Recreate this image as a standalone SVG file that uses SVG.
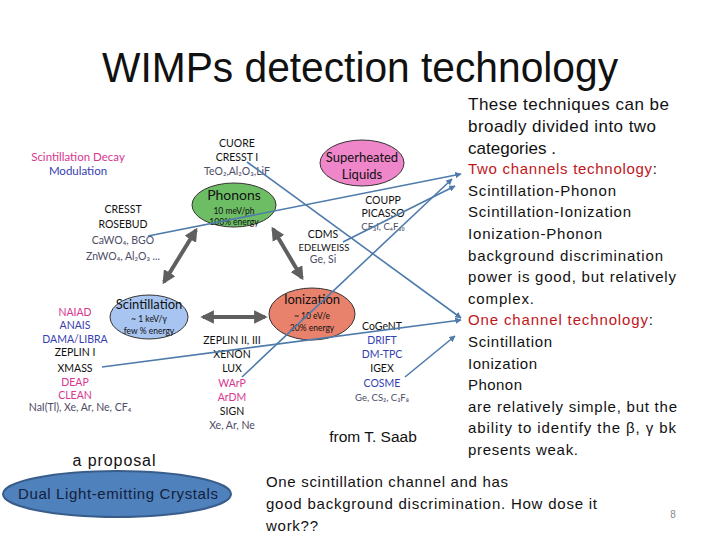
<svg xmlns="http://www.w3.org/2000/svg" width="720" height="540" viewBox="0 0 720 540">
<defs>
<marker id="ah" viewBox="0 0 10 10" refX="9" refY="5" markerWidth="4" markerHeight="4" orient="auto-start-reverse"><path d="M0,0 L10,5 L0,10 z" fill="#4f7bab"/></marker>
<marker id="gh" viewBox="0 0 10 10" refX="8" refY="5" markerWidth="3.4" markerHeight="3.4" orient="auto-start-reverse"><path d="M0,0 L10,5 L0,10 z" fill="#5f5f5f"/></marker>
</defs>
<style>
.t{font-family:"Liberation Sans",Arial,sans-serif}
.lbl{font-family:"Lato","Liberation Sans",sans-serif;font-size:10.5px;text-anchor:middle}
.s9{font-size:8.5px}
.s10{font-size:9.5px}
.s11{font-size:11.5px}
.s13{font-size:13px}
.s14{font-size:14px}
.k{fill:#111}
.p{fill:#d9368f}
.b{fill:#3540b0}
.g{fill:#4d4d66}
.c{font-family:"Liberation Sans",Arial,sans-serif;font-size:15px;fill:#111}
.a{font-family:"Liberation Sans",Arial,sans-serif;font-size:17px;fill:#111}
.blue{stroke:#4f7bab;stroke-width:1.6;fill:none;marker-end:url(#ah)}
.gray{stroke:#5f5f5f;stroke-width:4;fill:none;marker-start:url(#gh);marker-end:url(#gh)}
</style>
<rect width="720" height="540" fill="#fff"/>
<text class="t" x="360" y="82" font-size="42" text-anchor="middle" textLength="516" lengthAdjust="spacingAndGlyphs" fill="#111">WIMPs detection technology</text>

<g id="phonons"><ellipse cx="234" cy="205" rx="42" ry="22" fill="#6dbd65" stroke="#333" stroke-width="1"/>
<text class="lbl k s14" x="234" y="200">Phonons</text>
<text class="lbl k s9" x="234" y="214">10 meV/ph</text>
<text class="lbl k s9" x="234" y="225">100% energy</text></g>

<g id="superheated"><ellipse cx="362" cy="163" rx="42" ry="23" fill="#ee86c9" stroke="#333" stroke-width="1"/>
<text class="lbl k s13" x="362" y="162">Superheated</text>
<text class="lbl k s13" x="362" y="179">Liquids</text></g>

<g id="scintillation"><ellipse cx="149" cy="317" rx="39" ry="22" fill="#a8c4f0" stroke="#333" stroke-width="1"/>
<text class="lbl k s13" x="149" y="309">Scintillation</text>
<text class="lbl k s9" x="149" y="322">~ 1 keV/γ</text>
<text class="lbl k s9" x="149" y="334">few % energy</text></g>

<g id="ionization"><ellipse cx="312" cy="314" rx="43" ry="26" fill="#e9826c" stroke="#333" stroke-width="1"/>
<text class="lbl k s13" x="312" y="304">Ionization</text>
<text class="lbl k s9" x="312" y="319">~ 10 eV/e</text>
<text class="lbl k s9" x="312" y="331">20% energy</text></g>

<g id="labels">
<text class="lbl p s11" x="78" y="161">Scintillation Decay</text>
<text class="lbl b s11" x="78" y="175">Modulation</text>
<text class="lbl k" x="237" y="147">CUORE</text>
<text class="lbl k" x="237" y="161">CRESST I</text>
<text class="lbl g" x="237" y="175">TeO₂,Al₂O₃,LiF</text>
<text class="lbl k" x="123" y="213">CRESST</text>
<text class="lbl k" x="123" y="228">ROSEBUD</text>
<text class="lbl g" x="123" y="244">CaWO₄, BGO</text>
<text class="lbl g" x="123" y="260">ZnWO₄, Al₂O₃ ...</text>
<text class="lbl k" x="383" y="204">COUPP</text>
<text class="lbl k" x="383" y="217">PICASSO</text>
<text class="lbl g s10" x="383" y="230">CF₃I, C₄F₁₀</text>
<text class="lbl k" x="323" y="238">CDMS</text>
<text class="lbl k s10" x="324" y="251">EDELWEISS</text>
<text class="lbl g" x="323" y="263">Ge, Si</text>
<text class="lbl p" x="75" y="316">NAIAD</text>
<text class="lbl b" x="75" y="329">ANAIS</text>
<text class="lbl b" x="75" y="343">DAMA/LIBRA</text>
<text class="lbl k" x="75" y="356">ZEPLIN I</text>
<text class="lbl k" x="75" y="372">XMASS</text>
<text class="lbl p" x="75" y="386">DEAP</text>
<text class="lbl p" x="75" y="399">CLEAN</text>
<text class="lbl g" x="80" y="411">NaI(Tl), Xe, Ar, Ne, CF₄</text>
<text class="lbl k" x="232" y="344">ZEPLIN II, III</text>
<text class="lbl k" x="232" y="358">XENON</text>
<text class="lbl k" x="232" y="372">LUX</text>
<text class="lbl p" x="232" y="387">WArP</text>
<text class="lbl p" x="232" y="401">ArDM</text>
<text class="lbl k" x="232" y="415">SIGN</text>
<text class="lbl g" x="232" y="429">Xe, Ar, Ne</text>
<text class="lbl k" x="382" y="330">CoGeNT</text>
<text class="lbl b" x="382" y="344">DRIFT</text>
<text class="lbl b" x="382" y="358">DM-TPC</text>
<text class="lbl k" x="382" y="372">IGEX</text>
<text class="lbl b" x="382" y="387">COSME</text>
<text class="lbl g s10" x="382" y="401">Ge, CS₂, C₃F₈</text>
<text class="t" x="373" y="442" font-size="15.5" text-anchor="middle" fill="#111">from T. Saab</text>
</g>

<g id="connectors">
<line class="gray" x1="196" y1="230" x2="164" y2="282"/>
<line class="gray" x1="273" y1="229" x2="302" y2="278"/>
<line class="gray" x1="203" y1="317" x2="265" y2="317"/>
<line class="blue" x1="148" y1="236" x2="461" y2="174"/>
<line class="blue" x1="343" y1="242" x2="455" y2="186"/>
<line class="blue" x1="242" y1="377" x2="452" y2="179"/>
<line class="blue" x1="247" y1="162" x2="461" y2="318"/>
<line class="blue" x1="102" y1="367" x2="461" y2="320"/>
<line class="blue" x1="405" y1="377" x2="455" y2="336"/>
</g>

<g id="proposal">
<text class="t" x="114" y="466" font-size="16" text-anchor="middle" textLength="83" fill="#111">a proposal</text>
<ellipse cx="117" cy="494" rx="114" ry="23" fill="#4f81bd" stroke="#385d8a" stroke-width="2"/>
<text class="t" x="118" y="499" font-size="15" text-anchor="middle" textLength="200" fill="#13203a">Dual Light-emitting Crystals</text>
</g>

<g id="righttext">
<text class="a" x="468" y="110" textLength="201">These techniques can be</text>
<text class="a" x="468" y="132" textLength="188">broadly divided into two</text>
<text class="a" x="468" y="154" textLength="88">categories .</text>
<text class="c" x="468" y="174" textLength="189"><tspan fill="#c0161c">Two channels technology</tspan><tspan fill="#111">:</tspan></text>
<text class="c" x="468" y="196" textLength="148">Scintillation-Phonon</text>
<text class="c" x="468" y="217" textLength="163">Scintillation-Ionization</text>
<text class="c" x="468" y="239" textLength="134">Ionization-Phonon</text>
<text class="c" x="468" y="261" textLength="195">background discrimination</text>
<text class="c" x="468" y="282" textLength="208">power is good, but relatively</text>
<text class="c" x="468" y="304" textLength="66">complex.</text>
<text class="c" x="468" y="325" textLength="185"><tspan fill="#c0161c">One channel technology</tspan><tspan fill="#111">:</tspan></text>
<text class="c" x="468" y="347" textLength="84">Scintillation</text>
<text class="c" x="468" y="369" textLength="69">Ionization</text>
<text class="c" x="468" y="390" textLength="54">Phonon</text>
<text class="c" x="468" y="412" textLength="209">are relatively simple, but the</text>
<text class="c" x="468" y="433" textLength="208">ability to identify the β, γ bk</text>
<text class="c" x="468" y="455" textLength="110">presents weak.</text>
</g>

<g id="bottomtext">
<text class="c" x="266" y="487" textLength="242">One scintillation channel and has</text>
<text class="c" x="266" y="509" textLength="331">good background discrimination. How dose it</text>
<text class="c" x="266" y="531" textLength="52">work??</text>
</g>
<text class="t" x="673" y="518" font-size="10" text-anchor="middle" fill="#888">8</text>
</svg>
